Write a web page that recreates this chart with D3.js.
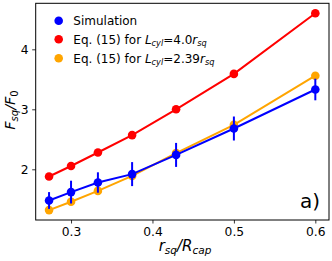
<!DOCTYPE html>
<html><head><meta charset="utf-8">
<script src="https://cdn.jsdelivr.net/npm/d3@7"></script>
<style>body{margin:0;background:#fff}svg{display:block;font-family:"DejaVu Sans",sans-serif}</style>
</head><body><svg id="c" width="332" height="261"></svg>
<script>
const xVals = [0.273, 0.3, 0.333, 0.375, 0.429, 0.5, 0.6];
const simY = [1.48, 1.62, 1.78, 1.92, 2.24, 2.68, 3.33];
const simErr = [0.14, 0.19, 0.17, 0.2, 0.2, 0.2, 0.18];
const eq40Y = [1.88, 2.055, 2.28, 2.57, 3.0, 3.59, 4.6];
const eq239Y = [1.32, 1.46, 1.64, 1.89, 2.27, 2.74, 3.56];
const xTicks = [0.3, 0.4, 0.5, 0.6];
const yTicks = [2, 3, 4];

const svg = d3.select("#c");
const L = 35.7, R = 329, T = 3.3, B = 220;
const x = d3.scaleLinear().domain([0.2566, 0.6168]).range([L, R]);
const y = d3.scaleLinear().domain([1.155, 4.767]).range([B, T]);

const line = d3.line().x((d, i) => x(xVals[i])).y(d => y(d));

function series(vals, color) {
  svg.append("path").datum(vals).attr("d", line).attr("fill", "none")
    .attr("stroke", color).attr("stroke-width", 2);
  svg.selectAll(null).data(vals).enter().append("circle")
    .attr("cx", (d, i) => x(xVals[i])).attr("cy", d => y(d)).attr("r", 4.3).attr("fill", color);
}
series(eq40Y, "#ff0000");
series(eq239Y, "#ffa500");
series(simY, "#0000ff");
svg.selectAll(null).data(simY).enter().append("line")
  .attr("x1", (d, i) => x(xVals[i])).attr("x2", (d, i) => x(xVals[i]))
  .attr("y1", (d, i) => y(d - simErr[i])).attr("y2", (d, i) => y(d + simErr[i]))
  .attr("stroke", "#0000ff").attr("stroke-width", 2);

// frame
svg.append("rect").attr("x", L).attr("y", T).attr("width", R - L).attr("height", B - T)
  .attr("fill", "none").attr("stroke", "#000").attr("stroke-width", 1);

const xa = svg.append("g").attr("transform", `translate(0,${B})`)
  .call(d3.axisBottom(x).tickValues(xTicks).tickSize(3.5).tickPadding(3.5).tickFormat(d3.format(".1f")));
const ya = svg.append("g").attr("transform", `translate(${L},0)`)
  .call(d3.axisLeft(y).tickValues(yTicks).tickSize(3.5).tickPadding(3.5).tickFormat(d3.format("d")));
[xa, ya].forEach(a => {
  a.select(".domain").remove();
  a.selectAll("text").attr("font-size", 12.3).attr("fill", "#000").attr("font-family", "DejaVu Sans");
  a.selectAll("line").attr("stroke", "#000").attr("stroke-width", 0.8);
});

// legend
const leg = [
  {c: "#0000ff", parts: [["Simulation", null]]},
  {c: "#ff0000", parts: [["Eq. (15) for ", null], ["L", "i"], ["cyl", "s"], ["=4.0", null], ["r", "i"], ["sq", "s"]]},
  {c: "#ffa500", parts: [["Eq. (15) for ", null], ["L", "i"], ["cyl", "s"], ["=2.39", null], ["r", "i"], ["sq", "s"]]}
];
const rows = [20.7, 39.3, 58.3];
leg.forEach((l, k) => {
  svg.append("circle").attr("cx", 58.7).attr("cy", rows[k]).attr("r", 4.3).attr("fill", l.c);
  const t = svg.append("text").attr("x", 73.3).attr("y", rows[k] + 4.3).attr("font-size", 12).attr("fill", "#000");
  l.parts.forEach(p => {
    const ts = t.append("tspan").text(p[0]);
    if (p[1] === "i") ts.attr("font-style", "italic");
    if (p[1] === "s") ts.attr("font-style", "italic").attr("font-size", 8.2).attr("baseline-shift", "-25%");
  });
});

// axis labels
const xl = svg.append("text").attr("x", 185).attr("y", 251).attr("text-anchor", "middle").attr("font-size", 15);
xl.append("tspan").text("r").attr("font-style", "italic");
xl.append("tspan").text("sq").attr("font-style", "italic").attr("font-size", 10.5).attr("baseline-shift", "-25%");
xl.append("tspan").text("/R").attr("font-style", "italic");
xl.append("tspan").text("cap").attr("font-style", "italic").attr("font-size", 10.5).attr("baseline-shift", "-25%");

const yl = svg.append("text").attr("transform", "translate(15,110) rotate(-90)").attr("text-anchor", "middle").attr("font-size", 14.5);
yl.append("tspan").text("F").attr("font-style", "italic");
yl.append("tspan").text("sq").attr("font-style", "italic").attr("font-size", 10).attr("baseline-shift", "-25%");
yl.append("tspan").text("/F").attr("font-style", "italic");
yl.append("tspan").text("0").attr("font-size", 10).attr("baseline-shift", "-25%");

svg.append("text").attr("x", 320).attr("y", 208).attr("text-anchor", "end").attr("font-size", 20).text("a)");
</script></body></html>
